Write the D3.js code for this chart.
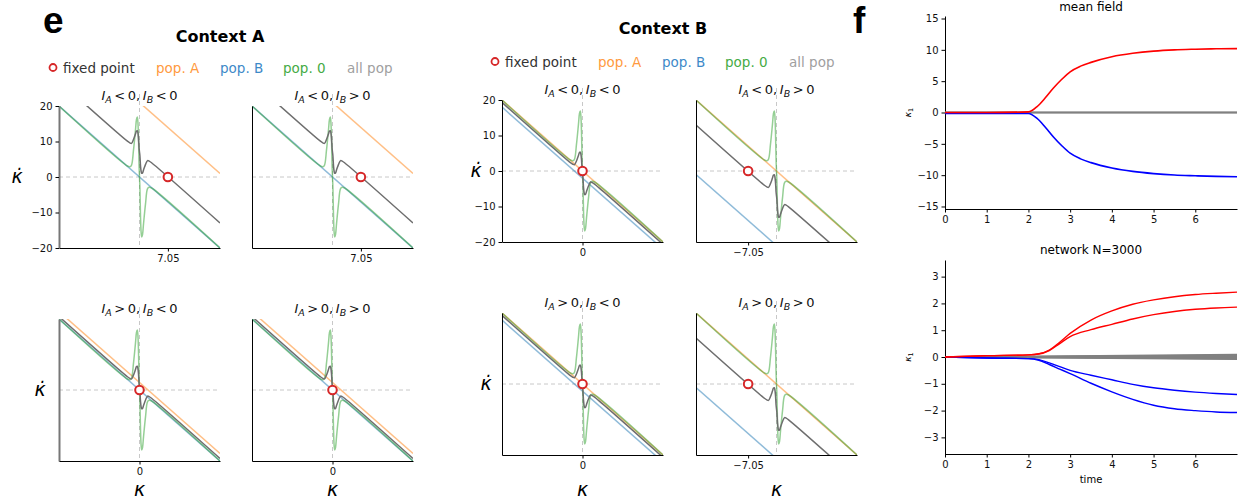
<!DOCTYPE html>
<html>
<head>
<meta charset="utf-8">
<script src="https://cdn.jsdelivr.net/npm/d3@7"></script>
<style>
  body { margin: 0; background: #fff; }
  svg { display: block; }
  text { font-family: "DejaVu Sans", sans-serif; }
</style>
</head>
<body>
<div id="chart"></div>
<script>
// ---------- data ----------
// kappa grid shared by the curved (pop. 0 and all pop) series
const kGrid = [-20, -3, -2.4, -2.0, -1.5, -1.0, -0.75, -0.55, -0.4, -0.25, -0.1, 0, 0.1, 0.25, 0.4, 0.55, 0.75, 1.0, 1.5, 2.0, 2.4, 3, 20];
// pop. 0 is the same in every panel
const pop0 = [20, 3.1, 2.9, 3.3, 7.5, 13.2, 16.2, 16.9, 15.5, 11, 3, 0, -3, -11, -15.5, -16.9, -16.2, -13.2, -7.5, -3.3, -2.9, -3.1, -20];
// all pop, one per distinct panel type
const allA_top = [27.05, 10.08, 9.62, 9.48, 10.55, 12.12, 12.95, 13.05, 12.48, 10.88, 8.12, 7.05, 5.98, 3.22, 1.62, 1.05, 1.15, 1.98, 3.55, 4.62, 4.48, 4.02, -12.95];
const allA_bot = [20.7, 3.73, 3.27, 3.13, 4.2, 5.77, 6.6, 6.7, 6.13, 4.53, 1.77, 0.7, -0.37, -3.13, -4.73, -5.3, -5.2, -4.37, -2.8, -1.73, -1.87, -2.33, -19.3];
const allB_left = [19.33, 2.36, 1.9, 1.76, 2.83, 4.4, 5.23, 5.33, 4.76, 3.16, 0.4, -0.67, -1.74, -4.5, -6.1, -6.67, -6.57, -5.74, -4.17, -3.1, -3.24, -3.7, -20.67];
const allB_right = [12.95, -4.02, -4.48, -4.62, -3.55, -1.98, -1.15, -1.05, -1.62, -3.22, -5.98, -7.05, -8.12, -10.88, -12.48, -13.05, -12.95, -12.12, -10.55, -9.48, -9.62, -10.08, -27.05];
// straight lines for pop. A / pop. B, values at kappa = -20 and 20
const kEnds = [-20, 20];
const popA_Atop = [41, 1], popB_Atop = [20, -20];
const popA_Abot = [22.1, -17.9], popB_Abot = [20, -20];
const popA_Bleft = [20, -20], popB_Bleft = [18, -22];
const popA_Bright = [20, -20], popB_Bright = [-1, -41];
// fixed points (kappa, kappa dot = 0)
const fixedPts = { Atop: 7.05, Abot: 0, Bleft: 0, Bright: -7.05 };
const panelTitles = ["I_A < 0, I_B < 0", "I_A < 0, I_B > 0", "I_A > 0, I_B < 0", "I_A > 0, I_B > 0"];
const yTicksE = [-20, -10, 0, 10, 20];

// panel f: mean field
const tMF = [0, 1, 2, 2.2, 2.4, 2.6, 2.8, 3, 3.25, 3.5, 4, 4.5, 5, 5.5, 6, 6.5, 7];
const mfRed = [0, 0, 0.1, 0.9, 2.3, 3.9, 5.3, 6.5, 7.4, 8.0, 8.9, 9.45, 9.8, 10.0, 10.1, 10.17, 10.2];
const mfBlue = [-0.15, -0.15, -0.15, -0.9, -2.3, -3.9, -5.3, -6.5, -7.4, -8.0, -8.85, -9.4, -9.75, -9.98, -10.1, -10.2, -10.25];
const mfGray = [0.05, 0, -0.05];
// panel f: network N=3000
const tNet = [0, 1, 2, 2.25, 2.5, 2.75, 3, 3.5, 4, 4.5, 5, 5.5, 6, 6.5, 7];
const netRed1 = [0, 0.05, 0.08, 0.12, 0.26, 0.55, 0.88, 1.38, 1.72, 1.97, 2.13, 2.25, 2.33, 2.38, 2.42];
const netRed2 = [0, 0.05, 0.08, 0.11, 0.24, 0.5, 0.76, 1.02, 1.22, 1.42, 1.58, 1.7, 1.78, 1.83, 1.86];
const netBlue1 = [0, -0.04, -0.06, -0.1, -0.22, -0.36, -0.5, -0.68, -0.85, -1.02, -1.15, -1.24, -1.31, -1.36, -1.4];
const netBlue2 = [0, -0.04, -0.06, -0.12, -0.28, -0.45, -0.62, -0.98, -1.3, -1.58, -1.8, -1.93, -2.0, -2.05, -2.07];
const netGrayEnd = [0.1, 0.07, 0.05, 0.03, 0.01, -0.01, -0.03, -0.05, -0.07, -0.09];

// ---------- layout ----------
const svg = d3.select("#chart").append("svg").attr("width", 1245).attr("height", 501);

const colA = "#ff7f0e", colB = "#1f77b4", col0 = "#2ca02c", colAll = "#6e6e6e", colFP = "#d62728";

const sets = {
  Atop: { all: allA_top, a: popA_Atop, b: popB_Atop, fp: fixedPts.Atop },
  Abot: { all: allA_bot, a: popA_Abot, b: popB_Abot, fp: fixedPts.Abot },
  Bleft: { all: allB_left, a: popA_Bleft, b: popB_Bleft, fp: fixedPts.Bleft },
  Bright: { all: allB_right, a: popA_Bright, b: popB_Bright, fp: fixedPts.Bright }
};

const panels = [
  { set: "Atop", x0: 59, x1: 220, y0: 106, y1: 248, title: 0, yt: true, ylab: 17, xlab: false, grayspine: true },
  { set: "Atop", x0: 252, x1: 413, y0: 106, y1: 248, title: 1 },
  { set: "Abot", x0: 59, x1: 220, y0: 319, y1: 461, title: 2, ylab: 40, xlab: true, grayspine: true },
  { set: "Abot", x0: 252, x1: 413, y0: 319, y1: 461, title: 3, xlab: true },
  { set: "Bleft", x0: 502, x1: 663, y0: 100, y1: 242, title: 0, yt: true, ylab: 476 },
  { set: "Bright", x0: 696, x1: 857, y0: 100, y1: 242, title: 1 },
  { set: "Bleft", x0: 502, x1: 663, y0: 313, y1: 455, title: 2, ylab: 486, xlab: true },
  { set: "Bright", x0: 696, x1: 857, y0: 313, y1: 455, title: 3, xlab: true }
];

function mathTitle(g, cx, y, str) {
  // str like "I_A < 0, I_B > 0"
  const parts = str.split(/(I_[AB])/).filter(s => s.length);
  const t = g.append("text").attr("x", cx).attr("y", y).attr("text-anchor", "middle")
    .style("font-size", "13px").attr("fill", "#111");
  let shifted = false;
  parts.forEach(p => {
    if (p.startsWith("I_")) {
      t.append("tspan").text("I").style("font-style", "italic").attr("dy", shifted ? -3 : 0);
      t.append("tspan").text(p[2]).style("font-style", "italic").style("font-size", "9.5px").attr("dy", 3);
      shifted = true;
    } else {
      t.append("tspan").text(p.replace(/ /g, "\u2009")).attr("dy", shifted ? -3 : 0);
      shifted = false;
    }
  });
}

panels.forEach((p, i) => {
  const d = sets[p.set];
  const x = d3.scaleLinear().domain([-20, 20]).range([p.x0, p.x1]);
  const y = d3.scaleLinear().domain([-20, 20]).range([p.y1, p.y0]);
  const g = svg.append("g");
  const clipId = "clip" + i;
  svg.append("clipPath").attr("id", clipId).append("rect")
    .attr("x", p.x0).attr("y", p.y0).attr("width", p.x1 - p.x0).attr("height", p.y1 - p.y0);

  // reference dashes
  g.append("line").attr("x1", p.x0).attr("x2", p.x1).attr("y1", y(0)).attr("y2", y(0))
    .attr("stroke", "#c8c8c8").attr("stroke-width", 1).attr("stroke-dasharray", "4,3");
  g.append("line").attr("x1", x(0)).attr("x2", x(0)).attr("y1", p.y0 - 12).attr("y2", p.y1)
    .attr("stroke", "#c8c8c8").attr("stroke-width", 1).attr("stroke-dasharray", "4,3");

  const cg = g.append("g").attr("clip-path", `url(#${clipId})`);
  const straight = d3.line().x(v => x(v[0])).y(v => y(v[1]));
  const curved = d3.line().x(v => x(v[0])).y(v => y(v[1])).curve(d3.curveCatmullRom.alpha(0.5));

  cg.append("path").datum(kEnds.map((k, j) => [k, d.b[j]]))
    .attr("d", straight).attr("fill", "none").attr("stroke", colB).attr("stroke-opacity", 0.5).attr("stroke-width", 1.5);
  cg.append("path").datum(kEnds.map((k, j) => [k, d.a[j]]))
    .attr("d", straight).attr("fill", "none").attr("stroke", colA).attr("stroke-opacity", 0.5).attr("stroke-width", 1.5);
  cg.append("path").datum(kGrid.map((k, j) => [k, pop0[j]]))
    .attr("d", curved).attr("fill", "none").attr("stroke", col0).attr("stroke-opacity", 0.5).attr("stroke-width", 1.5);
  cg.append("path").datum(kGrid.map((k, j) => [k, d.all[j]]))
    .attr("d", curved).attr("fill", "none").attr("stroke", colAll).attr("stroke-width", 1.5);

  // axes (left + bottom spines only)
  const ax = d3.axisLeft(y).tickValues(p.yt ? yTicksE : []).tickSize(3.5).tickSizeOuter(0).tickPadding(3)
    .tickFormat(d3.format("d"));
  const yg = g.append("g").attr("transform", `translate(${p.x0},0)`).call(ax);
  yg.select(".domain").attr("stroke", p.grayspine ? "#777" : "#000").attr("stroke-width", p.grayspine ? 2 : 1);
  const bx = d3.axisBottom(x).tickValues([d.fp]).tickSize(3.5).tickSizeOuter(0).tickPadding(3)
    .tickFormat(d3.format(".3~g"));
  g.append("g").attr("transform", `translate(0,${p.y1})`).call(bx);
  g.selectAll(".tick text").style("font-size", "10px").attr("fill", "#111");

  // fixed point
  g.append("circle").attr("cx", x(d.fp)).attr("cy", y(0)).attr("r", 4.3)
    .attr("fill", "#fff").attr("stroke", colFP).attr("stroke-width", 2);

  mathTitle(g, (p.x0 + p.x1) / 2, p.y0 - 6, panelTitles[p.title]);

  if (p.ylab) {
    g.append("text").attr("x", p.ylab).attr("y", y(0) + 6).attr("text-anchor", "middle")
      .style("font-size", "19px").style("font-style", "italic").text("\u03BA\u0307");
  }
  if (p.xlab) {
    g.append("text").attr("x", x(0)).attr("y", 496).attr("text-anchor", "middle")
      .style("font-size", "19px").style("font-style", "italic").text("\u03BA");
  }
});

// headings, legends
svg.append("text").attr("x", 43).attr("y", 33).text("e")
  .style("font-family", "'Liberation Sans', Arial, sans-serif").style("font-weight", "bold").style("font-size", "37px");
svg.append("text").attr("x", 853).attr("y", 33).text("f")
  .style("font-family", "'Liberation Sans', Arial, sans-serif").style("font-weight", "bold").style("font-size", "37px");
svg.append("text").attr("x", 220).attr("y", 42).attr("text-anchor", "middle").text("Context A")
  .style("font-weight", "bold").style("font-size", "16px");
svg.append("text").attr("x", 663).attr("y", 34).attr("text-anchor", "middle").text("Context B")
  .style("font-weight", "bold").style("font-size", "16px");

const legendItems = [
  { label: "fixed point", color: "#333", dx: 10 },
  { label: "pop. A", color: "#ff9a40", dx: 103 },
  { label: "pop. B", color: "#3d89c8", dx: 167 },
  { label: "pop. 0", color: "#45ab45", dx: 230 },
  { label: "all pop", color: "#a0a0a0", dx: 294 }
];
[{ x: 53, y: 68 }, { x: 495, y: 62 }].forEach(L => {
  svg.append("circle").attr("cx", L.x).attr("cy", L.y - 0.5).attr("r", 3.5)
    .attr("fill", "#fff").attr("stroke", colFP).attr("stroke-width", 1.8);
  legendItems.forEach(it => {
    svg.append("text").attr("x", L.x + it.dx).attr("y", L.y + 4.5).text(it.label)
      .attr("fill", it.color).style("font-size", "13.5px");
  });
});

// ---------- panel f ----------
const fx0 = 945, fx1 = 1237;
function fPanel(y0, y1, lim, ticks, title, titleY, showTime) {
  const x = d3.scaleLinear().domain([0, 7]).range([fx0, fx1]);
  const y = d3.scaleLinear().domain([-lim, lim]).range([y1, y0]);
  const g = svg.append("g");
  g.append("g").attr("transform", `translate(${fx0},0)`)
    .call(d3.axisLeft(y).tickValues(ticks).tickSize(3.5).tickSizeOuter(0).tickPadding(3).tickFormat(d3.format("d")));
  g.append("g").attr("transform", `translate(0,${y1})`)
    .call(d3.axisBottom(x).tickValues([0, 1, 2, 3, 4, 5, 6]).tickSize(3.5).tickSizeOuter(0).tickPadding(3).tickFormat(d3.format("d")));
  g.selectAll(".tick text").style("font-size", "10px").attr("fill", "#111");
  g.append("text").attr("x", 1091).attr("y", titleY).attr("text-anchor", "middle").style("font-size", "12px").text(title);
  const yl = g.append("text").attr("transform", `translate(911,${y(0)}) rotate(-90)`).attr("text-anchor", "middle")
    .style("font-size", "9px");
  yl.append("tspan").text("\u03BA").style("font-style", "italic");
  yl.append("tspan").text("1").style("font-size", "6.5px").attr("dy", 2);
  if (showTime) {
    g.append("text").attr("x", 1091).attr("y", 483).attr("text-anchor", "middle").style("font-size", "10px").text("time");
  }
  return { x, y, g };
}

const fTop = fPanel(16, 209, 15.4, [-15, -10, -5, 0, 5, 10, 15], "mean field", 11, false);
const fBot = fPanel(260, 454, 3.62, [-3, -2, -1, 0, 1, 2, 3], "network N=3000", 254, true);

function drawSeries(P, ts, vals, color, w) {
  const line = d3.line().x((v, j) => P.x(ts[j])).y(v => P.y(v)).curve(d3.curveMonotoneX);
  P.g.append("path").datum(vals).attr("d", line).attr("fill", "none").attr("stroke", color).attr("stroke-width", w);
}
mfGray.forEach(v => drawSeries(fTop, [0, 7], [v, v], "#808080", 1.6));
drawSeries(fTop, tMF, mfBlue, "#0000ff", 1.6);
drawSeries(fTop, tMF, mfRed, "#ff0000", 1.6);

netGrayEnd.forEach(v => drawSeries(fBot, [0, 7], [0, v], "#808080", 1.3));
drawSeries(fBot, tNet, netBlue1, "#0000ff", 1.4);
drawSeries(fBot, tNet, netBlue2, "#0000ff", 1.4);
drawSeries(fBot, tNet, netRed1, "#ff0000", 1.4);
drawSeries(fBot, tNet, netRed2, "#ff0000", 1.4);
</script>
</body>
</html>
